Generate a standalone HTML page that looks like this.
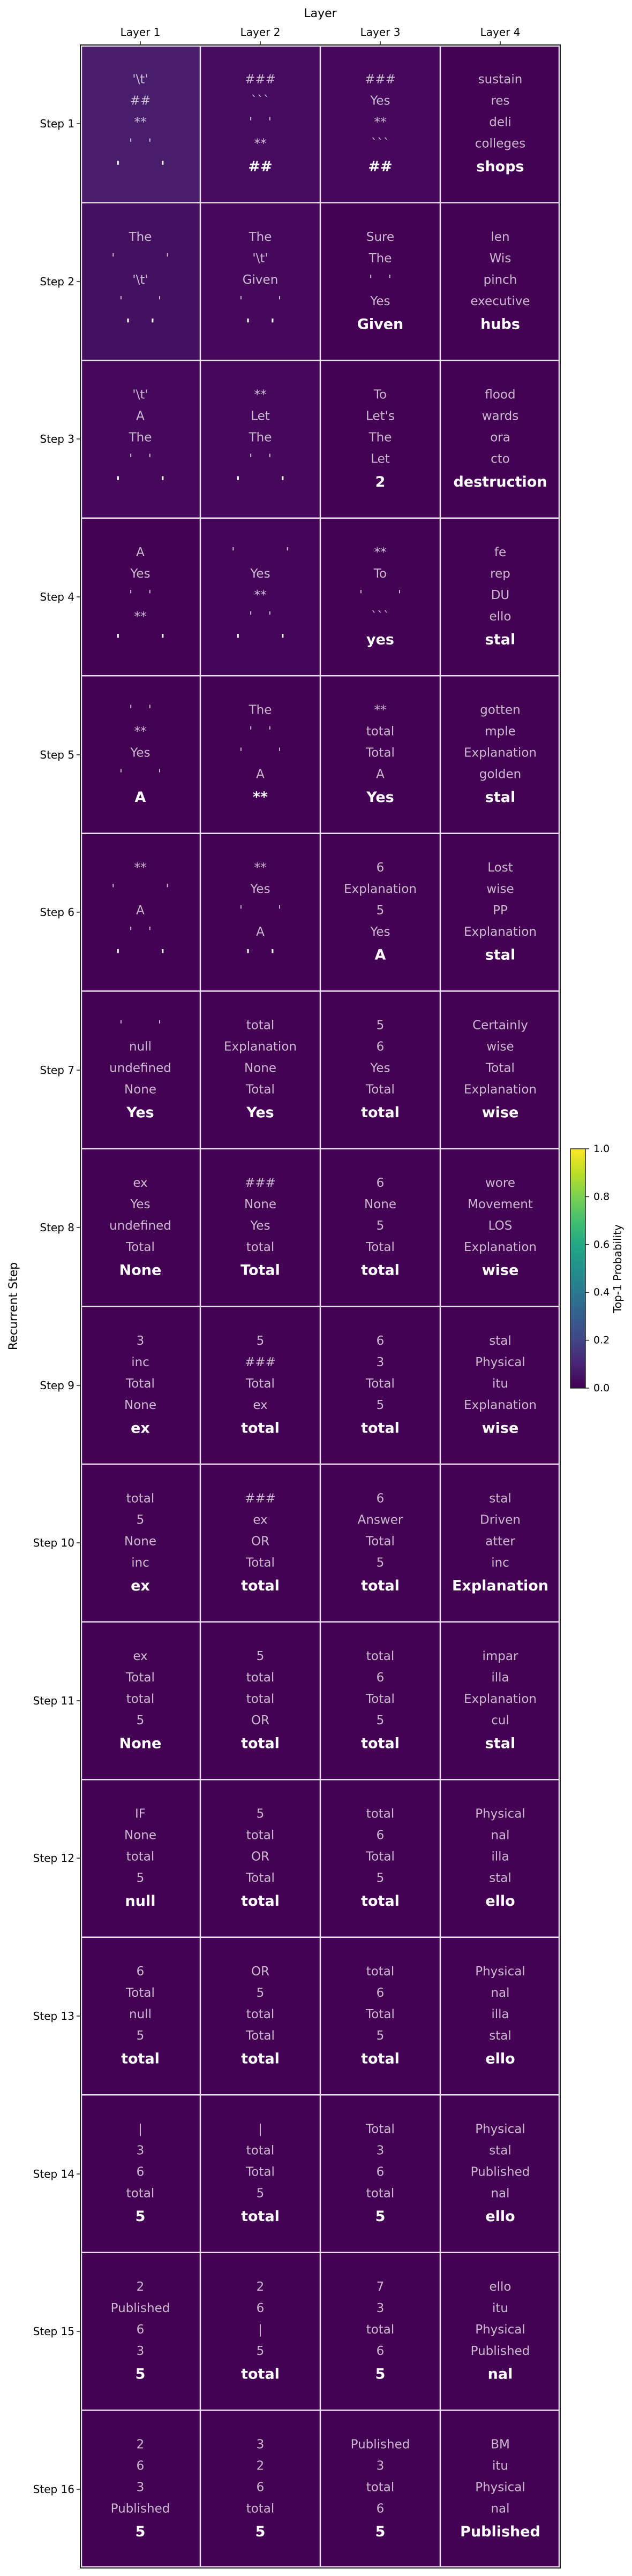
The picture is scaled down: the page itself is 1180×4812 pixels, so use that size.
<!DOCTYPE html>
<html><head><meta charset="utf-8"><style>
html,body{margin:0;padding:0;background:#fff;}
svg{display:block;font-family:"DejaVu Sans","Liberation Sans",sans-serif;}
.n{font-size:23px;fill:#fff;fill-opacity:0.72;text-anchor:middle;dominant-baseline:central;white-space:pre;}
.b{font-size:27px;font-weight:bold;fill:#fff;text-anchor:middle;dominant-baseline:central;white-space:pre;}
.lab{font-size:20px;fill:#000;}
</style></head><body>
<svg width="1180" height="4812" viewBox="0 0 1180 4812" xmlns="http://www.w3.org/2000/svg">
<defs>
<linearGradient id="vir" x1="0" y1="1" x2="0" y2="0">
<stop offset="0" stop-color="#440154"/><stop offset="0.1" stop-color="#482475"/><stop offset="0.2" stop-color="#414487"/><stop offset="0.3" stop-color="#355f8d"/><stop offset="0.4" stop-color="#2a788e"/><stop offset="0.5" stop-color="#21918c"/><stop offset="0.6" stop-color="#22a884"/><stop offset="0.7" stop-color="#44bf70"/><stop offset="0.8" stop-color="#7ad151"/><stop offset="0.9" stop-color="#bddf26"/><stop offset="1" stop-color="#fde725"/>
</linearGradient>
</defs>
<rect x="150" y="84" width="896" height="4713" fill="#440154"/>
<rect x="150" y="84" width="224" height="295" fill="#481d6b"/>
<rect x="374" y="84" width="224" height="295" fill="#460b5e"/>
<rect x="598" y="84" width="224" height="295" fill="#45085b"/>
<rect x="150" y="379" width="224" height="295" fill="#461060"/>
<rect x="374" y="379" width="224" height="295" fill="#45085a"/>
<rect x="150" y="673" width="448" height="295" fill="#45085a"/>
<rect x="374" y="968" width="224" height="295" fill="#45065a"/>
<g stroke="#e8e0ec" stroke-width="2.5">
<line x1="374" y1="84" x2="374" y2="4797"/><line x1="598" y1="84" x2="598" y2="4797"/><line x1="822" y1="84" x2="822" y2="4797"/>
<line x1="150" y1="378.6" x2="1046" y2="378.6"/><line x1="150" y1="673.1" x2="1046" y2="673.1"/><line x1="150" y1="967.7" x2="1046" y2="967.7"/><line x1="150" y1="1262.2" x2="1046" y2="1262.2"/><line x1="150" y1="1556.8" x2="1046" y2="1556.8"/><line x1="150" y1="1851.4" x2="1046" y2="1851.4"/><line x1="150" y1="2145.9" x2="1046" y2="2145.9"/><line x1="150" y1="2440.5" x2="1046" y2="2440.5"/><line x1="150" y1="2735" x2="1046" y2="2735"/><line x1="150" y1="3029.6" x2="1046" y2="3029.6"/><line x1="150" y1="3324.2" x2="1046" y2="3324.2"/><line x1="150" y1="3618.7" x2="1046" y2="3618.7"/><line x1="150" y1="3913.3" x2="1046" y2="3913.3"/><line x1="150" y1="4207.8" x2="1046" y2="4207.8"/><line x1="150" y1="4502.4" x2="1046" y2="4502.4"/>
<rect x="152" y="86" width="892" height="4709" fill="none"/>
</g>
<rect x="150" y="84" width="896" height="4713" fill="none" stroke="#222" stroke-width="2"/>
<g stroke="#222" stroke-width="1.5"><line x1="262" y1="77" x2="262" y2="84"/><line x1="486" y1="77" x2="486" y2="84"/><line x1="710" y1="77" x2="710" y2="84"/><line x1="934" y1="77" x2="934" y2="84"/></g>
<g class="lab" text-anchor="middle"><text x="262" y="67">Layer 1</text><text x="486" y="67">Layer 2</text><text x="710" y="67">Layer 3</text><text x="934" y="67">Layer 4</text></g>
<text x="598" y="32" text-anchor="middle" style="font-size:22px">Layer</text>
<text transform="translate(32,2440) rotate(-90)" text-anchor="middle" style="font-size:22px">Recurrent Step</text>
<g class="lab" text-anchor="end" dominant-baseline="central">
<text x="139" y="231">Step 1</text><text x="139" y="526">Step 2</text><text x="139" y="820">Step 3</text><text x="139" y="1115">Step 4</text><text x="139" y="1410">Step 5</text><text x="139" y="1704">Step 6</text><text x="139" y="1999">Step 7</text><text x="139" y="2293">Step 8</text><text x="139" y="2588">Step 9</text><text x="139" y="2882">Step 10</text><text x="139" y="3177">Step 11</text><text x="139" y="3471">Step 12</text><text x="139" y="3766">Step 13</text><text x="139" y="4061">Step 14</text><text x="139" y="4355">Step 15</text><text x="139" y="4650">Step 16</text>
</g>
<g stroke="#222" stroke-width="1.5">
<line x1="143" y1="231" x2="150" y2="231"/><line x1="143" y1="526" x2="150" y2="526"/><line x1="143" y1="820" x2="150" y2="820"/><line x1="143" y1="1115" x2="150" y2="1115"/><line x1="143" y1="1410" x2="150" y2="1410"/><line x1="143" y1="1704" x2="150" y2="1704"/><line x1="143" y1="1999" x2="150" y2="1999"/><line x1="143" y1="2293" x2="150" y2="2293"/><line x1="143" y1="2588" x2="150" y2="2588"/><line x1="143" y1="2882" x2="150" y2="2882"/><line x1="143" y1="3177" x2="150" y2="3177"/><line x1="143" y1="3471" x2="150" y2="3471"/><line x1="143" y1="3766" x2="150" y2="3766"/><line x1="143" y1="4061" x2="150" y2="4061"/><line x1="143" y1="4355" x2="150" y2="4355"/><line x1="143" y1="4650" x2="150" y2="4650"/>
</g>

<g transform="translate(0,231.3)">
<text class="n" x="262" y="-83">'\t'</text><text class="n" x="262" y="-43">##</text><text class="n" x="262" y="-3">**</text><text class="n" x="262" y="37">'    '</text><text class="b" x="262" y="80">'        '</text>
<text class="n" x="486" y="-83">###</text><text class="n" x="486" y="-43">&#96;&#96;&#96;</text><text class="n" x="486" y="-3">'    '</text><text class="n" x="486" y="37">**</text><text class="b" x="486" y="80">##</text>
<text class="n" x="710" y="-83">###</text><text class="n" x="710" y="-43">Yes</text><text class="n" x="710" y="-3">**</text><text class="n" x="710" y="37">&#96;&#96;&#96;</text><text class="b" x="710" y="80">##</text>
<text class="n" x="934" y="-83">sustain</text><text class="n" x="934" y="-43">res</text><text class="n" x="934" y="-3">deli</text><text class="n" x="934" y="37">colleges</text><text class="b" x="934" y="80">shops</text>
</g>
<g transform="translate(0,525.8)">
<text class="n" x="262" y="-83">The</text><text class="n" x="262" y="-43">'             '</text><text class="n" x="262" y="-3">'\t'</text><text class="n" x="262" y="37">'         '</text><text class="b" x="262" y="80">'    '</text>
<text class="n" x="486" y="-83">The</text><text class="n" x="486" y="-43">'\t'</text><text class="n" x="486" y="-3">Given</text><text class="n" x="486" y="37">'         '</text><text class="b" x="486" y="80">'    '</text>
<text class="n" x="710" y="-83">Sure</text><text class="n" x="710" y="-43">The</text><text class="n" x="710" y="-3">'    '</text><text class="n" x="710" y="37">Yes</text><text class="b" x="710" y="80">Given</text>
<text class="n" x="934" y="-83">len</text><text class="n" x="934" y="-43">Wis</text><text class="n" x="934" y="-3">pinch</text><text class="n" x="934" y="37">executive</text><text class="b" x="934" y="80">hubs</text>
</g>
<g transform="translate(0,820.4)">
<text class="n" x="262" y="-83">'\t'</text><text class="n" x="262" y="-43">A</text><text class="n" x="262" y="-3">The</text><text class="n" x="262" y="37">'    '</text><text class="b" x="262" y="80">'        '</text>
<text class="n" x="486" y="-83">**</text><text class="n" x="486" y="-43">Let</text><text class="n" x="486" y="-3">The</text><text class="n" x="486" y="37">'    '</text><text class="b" x="486" y="80">'        '</text>
<text class="n" x="710" y="-83">To</text><text class="n" x="710" y="-43">Let's</text><text class="n" x="710" y="-3">The</text><text class="n" x="710" y="37">Let</text><text class="b" x="710" y="80">2</text>
<text class="n" x="934" y="-83">flood</text><text class="n" x="934" y="-43">wards</text><text class="n" x="934" y="-3">ora</text><text class="n" x="934" y="37">cto</text><text class="b" x="934" y="80">destruction</text>
</g>
<g transform="translate(0,1115)">
<text class="n" x="262" y="-83">A</text><text class="n" x="262" y="-43">Yes</text><text class="n" x="262" y="-3">'    '</text><text class="n" x="262" y="37">**</text><text class="b" x="262" y="80">'        '</text>
<text class="n" x="486" y="-83">'             '</text><text class="n" x="486" y="-43">Yes</text><text class="n" x="486" y="-3">**</text><text class="n" x="486" y="37">'    '</text><text class="b" x="486" y="80">'        '</text>
<text class="n" x="710" y="-83">**</text><text class="n" x="710" y="-43">To</text><text class="n" x="710" y="-3">'         '</text><text class="n" x="710" y="37">&#96;&#96;&#96;</text><text class="b" x="710" y="80">yes</text>
<text class="n" x="934" y="-83">fe</text><text class="n" x="934" y="-43">rep</text><text class="n" x="934" y="-3">DU</text><text class="n" x="934" y="37">ello</text><text class="b" x="934" y="80">stal</text>
</g>
<g transform="translate(0,1409.5)">
<text class="n" x="262" y="-83">'    '</text><text class="n" x="262" y="-43">**</text><text class="n" x="262" y="-3">Yes</text><text class="n" x="262" y="37">'         '</text><text class="b" x="262" y="80">A</text>
<text class="n" x="486" y="-83">The</text><text class="n" x="486" y="-43">'    '</text><text class="n" x="486" y="-3">'         '</text><text class="n" x="486" y="37">A</text><text class="b" x="486" y="80">**</text>
<text class="n" x="710" y="-83">**</text><text class="n" x="710" y="-43">total</text><text class="n" x="710" y="-3">Total</text><text class="n" x="710" y="37">A</text><text class="b" x="710" y="80">Yes</text>
<text class="n" x="934" y="-83">gotten</text><text class="n" x="934" y="-43">mple</text><text class="n" x="934" y="-3">Explanation</text><text class="n" x="934" y="37">golden</text><text class="b" x="934" y="80">stal</text>
</g>
<g transform="translate(0,1704.1)">
<text class="n" x="262" y="-83">**</text><text class="n" x="262" y="-43">'             '</text><text class="n" x="262" y="-3">A</text><text class="n" x="262" y="37">'    '</text><text class="b" x="262" y="80">'        '</text>
<text class="n" x="486" y="-83">**</text><text class="n" x="486" y="-43">Yes</text><text class="n" x="486" y="-3">'         '</text><text class="n" x="486" y="37">A</text><text class="b" x="486" y="80">'    '</text>
<text class="n" x="710" y="-83">6</text><text class="n" x="710" y="-43">Explanation</text><text class="n" x="710" y="-3">5</text><text class="n" x="710" y="37">Yes</text><text class="b" x="710" y="80">A</text>
<text class="n" x="934" y="-83">Lost</text><text class="n" x="934" y="-43">wise</text><text class="n" x="934" y="-3">PP</text><text class="n" x="934" y="37">Explanation</text><text class="b" x="934" y="80">stal</text>
</g>
<g transform="translate(0,1998.7)">
<text class="n" x="262" y="-83">'         '</text><text class="n" x="262" y="-43">null</text><text class="n" x="262" y="-3">undefined</text><text class="n" x="262" y="37">None</text><text class="b" x="262" y="80">Yes</text>
<text class="n" x="486" y="-83">total</text><text class="n" x="486" y="-43">Explanation</text><text class="n" x="486" y="-3">None</text><text class="n" x="486" y="37">Total</text><text class="b" x="486" y="80">Yes</text>
<text class="n" x="710" y="-83">5</text><text class="n" x="710" y="-43">6</text><text class="n" x="710" y="-3">Yes</text><text class="n" x="710" y="37">Total</text><text class="b" x="710" y="80">total</text>
<text class="n" x="934" y="-83">Certainly</text><text class="n" x="934" y="-43">wise</text><text class="n" x="934" y="-3">Total</text><text class="n" x="934" y="37">Explanation</text><text class="b" x="934" y="80">wise</text>
</g>
<g transform="translate(0,2293.2)">
<text class="n" x="262" y="-83">ex</text><text class="n" x="262" y="-43">Yes</text><text class="n" x="262" y="-3">undefined</text><text class="n" x="262" y="37">Total</text><text class="b" x="262" y="80">None</text>
<text class="n" x="486" y="-83">###</text><text class="n" x="486" y="-43">None</text><text class="n" x="486" y="-3">Yes</text><text class="n" x="486" y="37">total</text><text class="b" x="486" y="80">Total</text>
<text class="n" x="710" y="-83">6</text><text class="n" x="710" y="-43">None</text><text class="n" x="710" y="-3">5</text><text class="n" x="710" y="37">Total</text><text class="b" x="710" y="80">total</text>
<text class="n" x="934" y="-83">wore</text><text class="n" x="934" y="-43">Movement</text><text class="n" x="934" y="-3">LOS</text><text class="n" x="934" y="37">Explanation</text><text class="b" x="934" y="80">wise</text>
</g>
<g transform="translate(0,2587.8)">
<text class="n" x="262" y="-83">3</text><text class="n" x="262" y="-43">inc</text><text class="n" x="262" y="-3">Total</text><text class="n" x="262" y="37">None</text><text class="b" x="262" y="80">ex</text>
<text class="n" x="486" y="-83">5</text><text class="n" x="486" y="-43">###</text><text class="n" x="486" y="-3">Total</text><text class="n" x="486" y="37">ex</text><text class="b" x="486" y="80">total</text>
<text class="n" x="710" y="-83">6</text><text class="n" x="710" y="-43">3</text><text class="n" x="710" y="-3">Total</text><text class="n" x="710" y="37">5</text><text class="b" x="710" y="80">total</text>
<text class="n" x="934" y="-83">stal</text><text class="n" x="934" y="-43">Physical</text><text class="n" x="934" y="-3">itu</text><text class="n" x="934" y="37">Explanation</text><text class="b" x="934" y="80">wise</text>
</g>
<g transform="translate(0,2882.3)">
<text class="n" x="262" y="-83">total</text><text class="n" x="262" y="-43">5</text><text class="n" x="262" y="-3">None</text><text class="n" x="262" y="37">inc</text><text class="b" x="262" y="80">ex</text>
<text class="n" x="486" y="-83">###</text><text class="n" x="486" y="-43">ex</text><text class="n" x="486" y="-3">OR</text><text class="n" x="486" y="37">Total</text><text class="b" x="486" y="80">total</text>
<text class="n" x="710" y="-83">6</text><text class="n" x="710" y="-43">Answer</text><text class="n" x="710" y="-3">Total</text><text class="n" x="710" y="37">5</text><text class="b" x="710" y="80">total</text>
<text class="n" x="934" y="-83">stal</text><text class="n" x="934" y="-43">Driven</text><text class="n" x="934" y="-3">atter</text><text class="n" x="934" y="37">inc</text><text class="b" x="934" y="80">Explanation</text>
</g>
<g transform="translate(0,3176.9)">
<text class="n" x="262" y="-83">ex</text><text class="n" x="262" y="-43">Total</text><text class="n" x="262" y="-3">total</text><text class="n" x="262" y="37">5</text><text class="b" x="262" y="80">None</text>
<text class="n" x="486" y="-83">5</text><text class="n" x="486" y="-43">total</text><text class="n" x="486" y="-3">total</text><text class="n" x="486" y="37">OR</text><text class="b" x="486" y="80">total</text>
<text class="n" x="710" y="-83">total</text><text class="n" x="710" y="-43">6</text><text class="n" x="710" y="-3">Total</text><text class="n" x="710" y="37">5</text><text class="b" x="710" y="80">total</text>
<text class="n" x="934" y="-83">impar</text><text class="n" x="934" y="-43">illa</text><text class="n" x="934" y="-3">Explanation</text><text class="n" x="934" y="37">cul</text><text class="b" x="934" y="80">stal</text>
</g>
<g transform="translate(0,3471.5)">
<text class="n" x="262" y="-83">IF</text><text class="n" x="262" y="-43">None</text><text class="n" x="262" y="-3">total</text><text class="n" x="262" y="37">5</text><text class="b" x="262" y="80">null</text>
<text class="n" x="486" y="-83">5</text><text class="n" x="486" y="-43">total</text><text class="n" x="486" y="-3">OR</text><text class="n" x="486" y="37">Total</text><text class="b" x="486" y="80">total</text>
<text class="n" x="710" y="-83">total</text><text class="n" x="710" y="-43">6</text><text class="n" x="710" y="-3">Total</text><text class="n" x="710" y="37">5</text><text class="b" x="710" y="80">total</text>
<text class="n" x="934" y="-83">Physical</text><text class="n" x="934" y="-43">nal</text><text class="n" x="934" y="-3">illa</text><text class="n" x="934" y="37">stal</text><text class="b" x="934" y="80">ello</text>
</g>
<g transform="translate(0,3766)">
<text class="n" x="262" y="-83">6</text><text class="n" x="262" y="-43">Total</text><text class="n" x="262" y="-3">null</text><text class="n" x="262" y="37">5</text><text class="b" x="262" y="80">total</text>
<text class="n" x="486" y="-83">OR</text><text class="n" x="486" y="-43">5</text><text class="n" x="486" y="-3">total</text><text class="n" x="486" y="37">Total</text><text class="b" x="486" y="80">total</text>
<text class="n" x="710" y="-83">total</text><text class="n" x="710" y="-43">6</text><text class="n" x="710" y="-3">Total</text><text class="n" x="710" y="37">5</text><text class="b" x="710" y="80">total</text>
<text class="n" x="934" y="-83">Physical</text><text class="n" x="934" y="-43">nal</text><text class="n" x="934" y="-3">illa</text><text class="n" x="934" y="37">stal</text><text class="b" x="934" y="80">ello</text>
</g>
<g transform="translate(0,4060.6)">
<text class="n" x="262" y="-83">|</text><text class="n" x="262" y="-43">3</text><text class="n" x="262" y="-3">6</text><text class="n" x="262" y="37">total</text><text class="b" x="262" y="80">5</text>
<text class="n" x="486" y="-83">|</text><text class="n" x="486" y="-43">total</text><text class="n" x="486" y="-3">Total</text><text class="n" x="486" y="37">5</text><text class="b" x="486" y="80">total</text>
<text class="n" x="710" y="-83">Total</text><text class="n" x="710" y="-43">3</text><text class="n" x="710" y="-3">6</text><text class="n" x="710" y="37">total</text><text class="b" x="710" y="80">5</text>
<text class="n" x="934" y="-83">Physical</text><text class="n" x="934" y="-43">stal</text><text class="n" x="934" y="-3">Published</text><text class="n" x="934" y="37">nal</text><text class="b" x="934" y="80">ello</text>
</g>
<g transform="translate(0,4355.1)">
<text class="n" x="262" y="-83">2</text><text class="n" x="262" y="-43">Published</text><text class="n" x="262" y="-3">6</text><text class="n" x="262" y="37">3</text><text class="b" x="262" y="80">5</text>
<text class="n" x="486" y="-83">2</text><text class="n" x="486" y="-43">6</text><text class="n" x="486" y="-3">|</text><text class="n" x="486" y="37">5</text><text class="b" x="486" y="80">total</text>
<text class="n" x="710" y="-83">7</text><text class="n" x="710" y="-43">3</text><text class="n" x="710" y="-3">total</text><text class="n" x="710" y="37">6</text><text class="b" x="710" y="80">5</text>
<text class="n" x="934" y="-83">ello</text><text class="n" x="934" y="-43">itu</text><text class="n" x="934" y="-3">Physical</text><text class="n" x="934" y="37">Published</text><text class="b" x="934" y="80">nal</text>
</g>
<g transform="translate(0,4649.7)">
<text class="n" x="262" y="-83">2</text><text class="n" x="262" y="-43">6</text><text class="n" x="262" y="-3">3</text><text class="n" x="262" y="37">Published</text><text class="b" x="262" y="80">5</text>
<text class="n" x="486" y="-83">3</text><text class="n" x="486" y="-43">2</text><text class="n" x="486" y="-3">6</text><text class="n" x="486" y="37">total</text><text class="b" x="486" y="80">5</text>
<text class="n" x="710" y="-83">Published</text><text class="n" x="710" y="-43">3</text><text class="n" x="710" y="-3">total</text><text class="n" x="710" y="37">6</text><text class="b" x="710" y="80">5</text>
<text class="n" x="934" y="-83">BM</text><text class="n" x="934" y="-43">itu</text><text class="n" x="934" y="-3">Physical</text><text class="n" x="934" y="37">nal</text><text class="b" x="934" y="80">Published</text>
</g>

<rect x="1065" y="2146" width="28" height="447" fill="url(#vir)" stroke="#222" stroke-width="1.5"/>
<g stroke="#222" stroke-width="1.5">
<line x1="1093" y1="2146" x2="1100" y2="2146"/><line x1="1093" y1="2235.4" x2="1100" y2="2235.4"/><line x1="1093" y1="2324.8" x2="1100" y2="2324.8"/><line x1="1093" y1="2414.2" x2="1100" y2="2414.2"/><line x1="1093" y1="2503.6" x2="1100" y2="2503.6"/><line x1="1093" y1="2593" x2="1100" y2="2593"/>
</g>
<g class="lab" style="font-size:19px" dominant-baseline="central">
<text x="1108" y="2146">1.0</text><text x="1108" y="2235.4">0.8</text><text x="1108" y="2324.8">0.6</text><text x="1108" y="2414.2">0.4</text><text x="1108" y="2503.6">0.2</text><text x="1108" y="2593">0.0</text>
</g>
<text transform="translate(1160,2370) rotate(-90)" text-anchor="middle" style="font-size:20px">Top-1 Probability</text>
</svg>
</body></html>
